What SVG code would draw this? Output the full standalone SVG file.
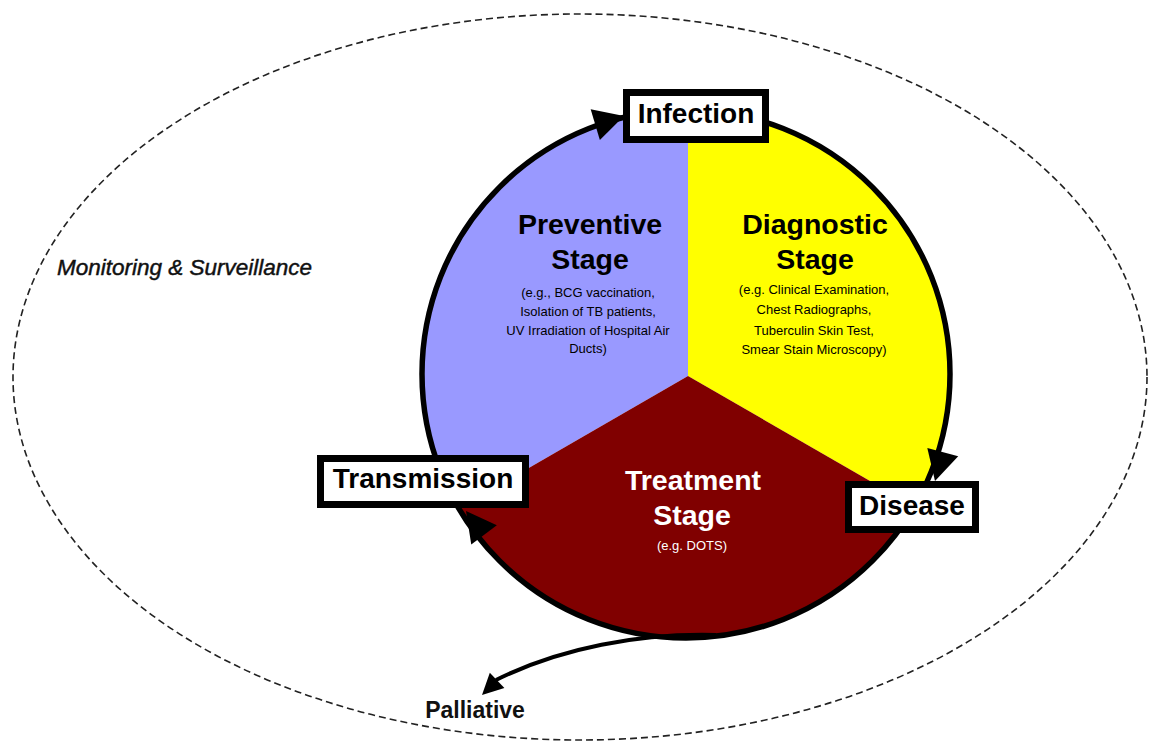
<svg xmlns="http://www.w3.org/2000/svg" xmlns:xlink="http://www.w3.org/1999/xlink" width="1150" height="749" viewBox="0 0 1150 749">
  <style>
    .title { font-family: "Liberation Sans", Arial, sans-serif; font-weight: bold; font-size: 28.5px; text-anchor: middle; }
    .label { font-family: "Liberation Sans", Arial, sans-serif; font-weight: bold; font-size: 28px; text-anchor: middle; fill: #000; }
    .note { font-family: "Liberation Sans", Arial, sans-serif; font-size: 13px; text-anchor: middle; fill: #000; }
    .box { fill: #fff; stroke: #000; stroke-width: 7; }
    .ring { fill: none; stroke: #000; stroke-width: 5.5; }
    .head { fill: #000; }
  </style>
  <defs>
    <path id="bighead" d="M0,0 L-30,-16 L-30,16 Z"/>
    <path id="smallhead" d="M0,0 L-21,-10.5 L-21,10.5 Z"/>
  </defs>

  <rect width="1150" height="749" fill="#fff"/>

  <!-- outer surveillance boundary -->
  <g id="monitoring">
    <ellipse cx="580" cy="377" rx="567" ry="363" fill="none" stroke="#222" stroke-width="1.6" stroke-dasharray="7 4"/>
    <text x="57" y="275" font-family="'Liberation Sans', Arial, sans-serif" font-style="italic" font-size="22.5" fill="#111" stroke="#111" stroke-width="0.45">Monitoring &amp; Surveillance</text>
  </g>

  <!-- three stage sectors -->
  <g id="preventive">
    <path d="M688,376 L688,110 A264,264 0 0 0 458.8,508.4 Z" fill="#9999ff"/>
    <text class="title" x="590" y="234">Preventive</text>
    <text class="title" x="590" y="269">Stage</text>
    <text class="note" x="588" y="297">(e.g., BCG vaccination,</text>
    <text class="note" x="588" y="316">Isolation of TB patients,</text>
    <text class="note" x="588" y="335">UV Irradiation of Hospital Air</text>
    <text class="note" x="588" y="353">Ducts)</text>
  </g>

  <g id="diagnostic">
    <path d="M688,376 L688,110 A264,264 0 0 1 914.3,506.6 Z" fill="#ffff00"/>
    <text class="title" x="815" y="234">Diagnostic</text>
    <text class="title" x="815" y="269">Stage</text>
    <text class="note" x="814" y="294">(e.g. Clinical Examination,</text>
    <text class="note" x="814" y="314">Chest Radiographs,</text>
    <text class="note" x="814" y="335">Tuberculin Skin Test,</text>
    <text class="note" x="814" y="354">Smear Stain Microscopy)</text>
  </g>

  <g id="treatment">
    <path d="M688,376 L914.3,506.6 A264,264 0 0 1 458.8,508.4 Z" fill="#800000"/>
    <text class="title" x="693" y="490" fill="#fff">Treatment</text>
    <text class="title" x="692" y="525" fill="#fff">Stage</text>
    <text class="note" x="692" y="550" font-size="12" style="fill:#fff">(e.g. DOTS)</text>
  </g>

  <!-- cycle ring, arrows and the palliative branch -->
  <g id="connectors">
    <circle class="ring" cx="686" cy="374" r="264"/>
    <use href="#bighead" class="head" transform="translate(624,116) rotate(-16.7)"/>
    <use href="#bighead" class="head" transform="translate(935,481) rotate(105)"/>
    <use href="#bighead" class="head" transform="translate(466,511) rotate(-127)"/>
    <path d="M716,635 C640,633 560,648 496,680" fill="none" stroke="#000" stroke-width="4"/>
    <use href="#smallhead" class="head" transform="translate(482,695) rotate(136)"/>
  </g>

  <!-- event boxes -->
  <g id="infection">
    <rect class="box" x="626.5" y="92.5" width="139" height="47"/>
    <text class="label" x="696" y="123">Infection</text>
  </g>
  <g id="disease">
    <rect class="box" x="848.5" y="484.5" width="127" height="45"/>
    <text class="label" x="912" y="515">Disease</text>
  </g>
  <g id="transmission">
    <rect class="box" x="320.5" y="458.5" width="205" height="46"/>
    <text class="label" x="423" y="488">Transmission</text>
  </g>
  <g id="palliative">
    <text x="475" y="718" font-family="'Liberation Sans', Arial, sans-serif" font-weight="bold" font-size="23" text-anchor="middle" fill="#111">Palliative</text>
  </g>
</svg>
